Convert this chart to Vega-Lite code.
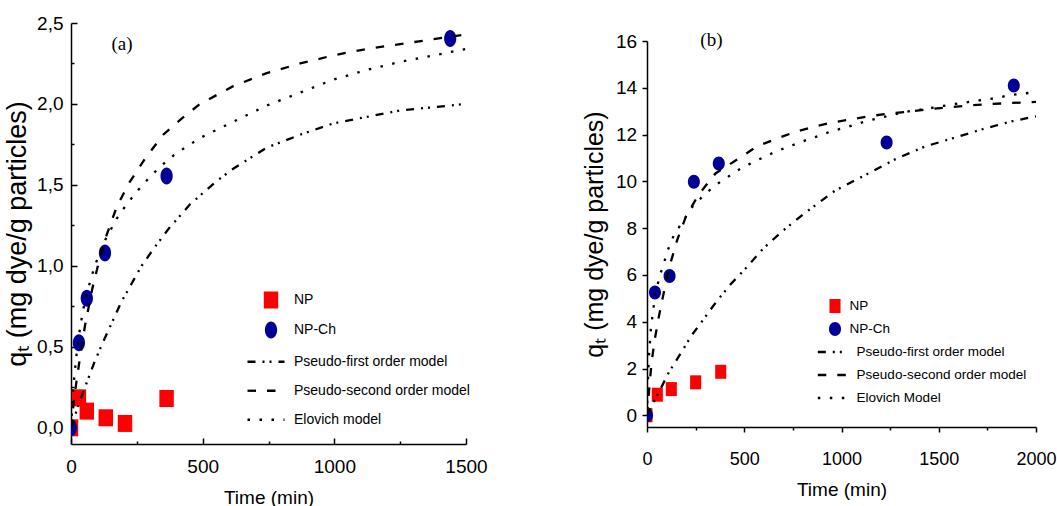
{
"$schema": "https://vega.github.io/schema/vega-lite/v6.json",
"padding": {"left": 3, "top": 14, "right": 0, "bottom": 0},
"spacing": 94,
"background": "white",
"config": {
  "view": {"stroke": null},
  "axis": {"grid": false, "domainColor": "#000", "domainWidth": 1.5, "tickColor": "#000", "tickWidth": 1.5, "labelColor": "#000", "titleColor": "#000", "labelFont": "Liberation Sans", "labelFontSize": 19, "titleFont": "Liberation Sans", "titleFontSize": 19, "titleFontWeight": "normal", "labelFlush": false, "labelOverlap": false},
  "legend": {"labelFont": "Liberation Sans", "labelColor": "#000", "padding": 0, "labelLimit": 0}
},
"datasets": {
  "pts": [
    {"p":"a","s":"NP","t":0,"q":0},{"p":"a","s":"NP","t":30,"q":0.185},{"p":"a","s":"NP","t":60,"q":0.103},{"p":"a","s":"NP","t":132,"q":0.062},{"p":"a","s":"NP","t":205,"q":0.027},{"p":"a","s":"NP","t":363,"q":0.181},
    {"p":"a","s":"NP-Ch","t":0,"q":0},{"p":"a","s":"NP-Ch","t":30,"q":0.525},{"p":"a","s":"NP-Ch","t":60,"q":0.8},{"p":"a","s":"NP-Ch","t":129,"q":1.08},{"p":"a","s":"NP-Ch","t":363,"q":1.555},{"p":"a","s":"NP-Ch","t":1440,"q":2.405},
    {"p":"b","s":"NP","t":0,"q":0},{"p":"b","s":"NP","t":53,"q":0.88},{"p":"b","s":"NP","t":125,"q":1.12},{"p":"b","s":"NP","t":250,"q":1.41},{"p":"b","s":"NP","t":379,"q":1.86},
    {"p":"b","s":"NP-Ch","t":0,"q":0},{"p":"b","s":"NP-Ch","t":41,"q":5.25},{"p":"b","s":"NP-Ch","t":116,"q":5.96},{"p":"b","s":"NP-Ch","t":241,"q":9.98},{"p":"b","s":"NP-Ch","t":369,"q":10.76},{"p":"b","s":"NP-Ch","t":1232,"q":11.66},{"p":"b","s":"NP-Ch","t":1886,"q":14.1}
  ],
  "fits": [
    {"p":"a","m":"Pseudo-first order model","t":0,"q":0},{"p":"a","m":"Pseudo-first order model","t":30,"q":0.15},{"p":"a","m":"Pseudo-first order model","t":60,"q":0.28},{"p":"a","m":"Pseudo-first order model","t":90,"q":0.41},{"p":"a","m":"Pseudo-first order model","t":119,"q":0.52},{"p":"a","m":"Pseudo-first order model","t":150,"q":0.63},{"p":"a","m":"Pseudo-first order model","t":192,"q":0.78},{"p":"a","m":"Pseudo-first order model","t":230,"q":0.89},{"p":"a","m":"Pseudo-first order model","t":268,"q":1.0},{"p":"a","m":"Pseudo-first order model","t":320,"q":1.12},{"p":"a","m":"Pseudo-first order model","t":376,"q":1.24},{"p":"a","m":"Pseudo-first order model","t":452,"q":1.38},{"p":"a","m":"Pseudo-first order model","t":550,"q":1.52},{"p":"a","m":"Pseudo-first order model","t":616,"q":1.6},{"p":"a","m":"Pseudo-first order model","t":743,"q":1.73},{"p":"a","m":"Pseudo-first order model","t":870,"q":1.81},{"p":"a","m":"Pseudo-first order model","t":996,"q":1.88},{"p":"a","m":"Pseudo-first order model","t":1123,"q":1.92},{"p":"a","m":"Pseudo-first order model","t":1250,"q":1.96},{"p":"a","m":"Pseudo-first order model","t":1377,"q":1.98},{"p":"a","m":"Pseudo-first order model","t":1500,"q":2.0},
    {"p":"a","m":"Pseudo-second order model","t":0,"q":0},{"p":"a","m":"Pseudo-second order model","t":10,"q":0.15},{"p":"a","m":"Pseudo-second order model","t":21,"q":0.29},{"p":"a","m":"Pseudo-second order model","t":32,"q":0.41},{"p":"a","m":"Pseudo-second order model","t":53,"q":0.63},{"p":"a","m":"Pseudo-second order model","t":81,"q":0.86},{"p":"a","m":"Pseudo-second order model","t":105,"q":1.02},{"p":"a","m":"Pseudo-second order model","t":135,"q":1.19},{"p":"a","m":"Pseudo-second order model","t":175,"q":1.37},{"p":"a","m":"Pseudo-second order model","t":220,"q":1.51},{"p":"a","m":"Pseudo-second order model","t":280,"q":1.66},{"p":"a","m":"Pseudo-second order model","t":350,"q":1.81},{"p":"a","m":"Pseudo-second order model","t":420,"q":1.91},{"p":"a","m":"Pseudo-second order model","t":490,"q":2.0},{"p":"a","m":"Pseudo-second order model","t":616,"q":2.11},{"p":"a","m":"Pseudo-second order model","t":743,"q":2.19},{"p":"a","m":"Pseudo-second order model","t":870,"q":2.25},{"p":"a","m":"Pseudo-second order model","t":996,"q":2.3},{"p":"a","m":"Pseudo-second order model","t":1123,"q":2.34},{"p":"a","m":"Pseudo-second order model","t":1250,"q":2.37},{"p":"a","m":"Pseudo-second order model","t":1377,"q":2.4},{"p":"a","m":"Pseudo-second order model","t":1500,"q":2.43},
    {"p":"a","m":"Elovich model","t":0,"q":0},{"p":"a","m":"Elovich model","t":5,"q":0.15},{"p":"a","m":"Elovich model","t":10,"q":0.27},{"p":"a","m":"Elovich model","t":20,"q":0.44},{"p":"a","m":"Elovich model","t":30,"q":0.57},{"p":"a","m":"Elovich model","t":45,"q":0.72},{"p":"a","m":"Elovich model","t":60,"q":0.83},{"p":"a","m":"Elovich model","t":90,"q":1.0},{"p":"a","m":"Elovich model","t":130,"q":1.16},{"p":"a","m":"Elovich model","t":173,"q":1.29},{"p":"a","m":"Elovich model","t":211,"q":1.38},{"p":"a","m":"Elovich model","t":256,"q":1.47},{"p":"a","m":"Elovich model","t":300,"q":1.55},{"p":"a","m":"Elovich model","t":344,"q":1.62},{"p":"a","m":"Elovich model","t":395,"q":1.69},{"p":"a","m":"Elovich model","t":490,"q":1.79},{"p":"a","m":"Elovich model","t":616,"q":1.89},{"p":"a","m":"Elovich model","t":743,"q":1.99},{"p":"a","m":"Elovich model","t":870,"q":2.07},{"p":"a","m":"Elovich model","t":996,"q":2.15},{"p":"a","m":"Elovich model","t":1123,"q":2.21},{"p":"a","m":"Elovich model","t":1250,"q":2.26},{"p":"a","m":"Elovich model","t":1377,"q":2.3},{"p":"a","m":"Elovich model","t":1500,"q":2.34},
    {"p":"b","m":"Pseudo-first order model","t":0,"q":0},{"p":"b","m":"Pseudo-first order model","t":20,"q":0.33},{"p":"b","m":"Pseudo-first order model","t":50,"q":0.82},{"p":"b","m":"Pseudo-first order model","t":80,"q":1.3},{"p":"b","m":"Pseudo-first order model","t":113,"q":1.85},{"p":"b","m":"Pseudo-first order model","t":170,"q":2.6},{"p":"b","m":"Pseudo-first order model","t":228,"q":3.4},{"p":"b","m":"Pseudo-first order model","t":290,"q":4.1},{"p":"b","m":"Pseudo-first order model","t":357,"q":4.86},{"p":"b","m":"Pseudo-first order model","t":430,"q":5.6},{"p":"b","m":"Pseudo-first order model","t":503,"q":6.24},{"p":"b","m":"Pseudo-first order model","t":600,"q":7.15},{"p":"b","m":"Pseudo-first order model","t":700,"q":7.9},{"p":"b","m":"Pseudo-first order model","t":814,"q":8.66},{"p":"b","m":"Pseudo-first order model","t":968,"q":9.61},{"p":"b","m":"Pseudo-first order model","t":1122,"q":10.27},{"p":"b","m":"Pseudo-first order model","t":1275,"q":10.94},{"p":"b","m":"Pseudo-first order model","t":1429,"q":11.49},{"p":"b","m":"Pseudo-first order model","t":1583,"q":11.87},{"p":"b","m":"Pseudo-first order model","t":1737,"q":12.26},{"p":"b","m":"Pseudo-first order model","t":1882,"q":12.58},{"p":"b","m":"Pseudo-first order model","t":2000,"q":12.78},
    {"p":"b","m":"Pseudo-second order model","t":0,"q":0},{"p":"b","m":"Pseudo-second order model","t":10,"q":1.0},{"p":"b","m":"Pseudo-second order model","t":24,"q":2.3},{"p":"b","m":"Pseudo-second order model","t":40,"q":3.25},{"p":"b","m":"Pseudo-second order model","t":61,"q":4.22},{"p":"b","m":"Pseudo-second order model","t":90,"q":5.4},{"p":"b","m":"Pseudo-second order model","t":118,"q":6.43},{"p":"b","m":"Pseudo-second order model","t":155,"q":7.49},{"p":"b","m":"Pseudo-second order model","t":198,"q":8.45},{"p":"b","m":"Pseudo-second order model","t":263,"q":9.41},{"p":"b","m":"Pseudo-second order model","t":352,"q":10.34},{"p":"b","m":"Pseudo-second order model","t":472,"q":10.98},{"p":"b","m":"Pseudo-second order model","t":566,"q":11.5},{"p":"b","m":"Pseudo-second order model","t":668,"q":11.83},{"p":"b","m":"Pseudo-second order model","t":771,"q":12.14},{"p":"b","m":"Pseudo-second order model","t":873,"q":12.37},{"p":"b","m":"Pseudo-second order model","t":968,"q":12.54},{"p":"b","m":"Pseudo-second order model","t":1070,"q":12.68},{"p":"b","m":"Pseudo-second order model","t":1173,"q":12.82},{"p":"b","m":"Pseudo-second order model","t":1270,"q":12.92},{"p":"b","m":"Pseudo-second order model","t":1369,"q":13.0},{"p":"b","m":"Pseudo-second order model","t":1470,"q":13.1},{"p":"b","m":"Pseudo-second order model","t":1574,"q":13.18},{"p":"b","m":"Pseudo-second order model","t":1668,"q":13.25},{"p":"b","m":"Pseudo-second order model","t":1771,"q":13.31},{"p":"b","m":"Pseudo-second order model","t":1874,"q":13.35},{"p":"b","m":"Pseudo-second order model","t":2000,"q":13.4},
    {"p":"b","m":"Elovich Model","t":0,"q":0},{"p":"b","m":"Elovich Model","t":2,"q":0.8},{"p":"b","m":"Elovich Model","t":5,"q":1.6},{"p":"b","m":"Elovich Model","t":10,"q":2.55},{"p":"b","m":"Elovich Model","t":20,"q":3.7},{"p":"b","m":"Elovich Model","t":41,"q":5.1},{"p":"b","m":"Elovich Model","t":65,"q":5.95},{"p":"b","m":"Elovich Model","t":87,"q":6.5},{"p":"b","m":"Elovich Model","t":104,"q":7.0},{"p":"b","m":"Elovich Model","t":138,"q":7.7},{"p":"b","m":"Elovich Model","t":181,"q":8.25},{"p":"b","m":"Elovich Model","t":232,"q":8.9},{"p":"b","m":"Elovich Model","t":292,"q":9.41},{"p":"b","m":"Elovich Model","t":352,"q":9.84},{"p":"b","m":"Elovich Model","t":412,"q":10.17},{"p":"b","m":"Elovich Model","t":472,"q":10.5},{"p":"b","m":"Elovich Model","t":532,"q":10.76},{"p":"b","m":"Elovich Model","t":591,"q":11.0},{"p":"b","m":"Elovich Model","t":651,"q":11.23},{"p":"b","m":"Elovich Model","t":711,"q":11.43},{"p":"b","m":"Elovich Model","t":771,"q":11.62},{"p":"b","m":"Elovich Model","t":831,"q":11.8},{"p":"b","m":"Elovich Model","t":891,"q":11.97},{"p":"b","m":"Elovich Model","t":950,"q":12.15},{"p":"b","m":"Elovich Model","t":1019,"q":12.3},{"p":"b","m":"Elovich Model","t":1078,"q":12.45},{"p":"b","m":"Elovich Model","t":1138,"q":12.6},{"p":"b","m":"Elovich Model","t":1266,"q":12.85},{"p":"b","m":"Elovich Model","t":1326,"q":12.97},{"p":"b","m":"Elovich Model","t":1450,"q":13.12},{"p":"b","m":"Elovich Model","t":1560,"q":13.28},{"p":"b","m":"Elovich Model","t":1677,"q":13.42},{"p":"b","m":"Elovich Model","t":1737,"q":13.5},{"p":"b","m":"Elovich Model","t":1796,"q":13.56},{"p":"b","m":"Elovich Model","t":1856,"q":13.67},{"p":"b","m":"Elovich Model","t":1916,"q":13.74},{"p":"b","m":"Elovich Model","t":1976,"q":13.79},{"p":"b","m":"Elovich Model","t":2000,"q":13.82}
  ],
  "labs": [
    {"p":"a","t":194,"q":2.37,"txt":"(a)"},
    {"p":"b","t":331,"q":16.05,"txt":"(b)"}
  ]
},
"hconcat": [
  {
    "width": 395, "height": 421,
    "layer": [
      {
        "data": {"name": "pts"},
        "transform": [{"filter": "datum.p === 'a'"}],
        "mark": {"type": "point", "filled": true, "opacity": 1, "size": 289, "clip": true},
        "encoding": {
          "x": {"field": "t", "type": "quantitative", "scale": {"domain": [0, 1500], "nice": false, "zero": false},
                "axis": {"title": "Time (min)", "values": [0,250,500,750,1000,1250,1500], "format": "d", "labelExpr": "datum.value % 500 === 0 ? datum.label : ''", "tickSize": {"condition": {"test": "datum.value % 500 === 0", "value": -6}, "value": -3}, "labelPadding": 19, "titlePadding": 9}},
          "y": {"field": "q", "type": "quantitative", "scale": {"domain": [-0.1, 2.5], "nice": false, "zero": false},
                "axis": {"title": "qₜ (mg dye/g particles)", "values": [0,0.25,0.5,0.75,1,1.25,1.5,1.75,2,2.25,2.5], "labelExpr": "datum.value % 0.5 === 0 ? replace(format(datum.value, '.1f'), '.', ',') : ''", "tickSize": {"condition": {"test": "datum.value % 0.5 === 0", "value": -6}, "value": -3}, "labelPadding": 14, "titleFontSize": 27, "titlePadding": 5}},
          "color": {"field": "s", "type": "nominal", "scale": {"domain": ["NP", "NP-Ch"], "range": ["#ff0000", "#000096"]},
                    "legend": {"orient": "none", "legendX": 191.5, "legendY": 268.5, "title": null, "labelFontSize": 14, "labelOffset": 14.5, "rowPadding": 13, "symbolSize": 289, "symbolStrokeWidth": 0}},
          "shape": {"field": "s", "type": "nominal", "scale": {"domain": ["NP", "NP-Ch"], "range": ["M-0.85,-1H0.85V1H-0.85Z", "M-0.72,0A0.72,1,0,1,1,0.72,0A0.72,1,0,1,1,-0.72,0Z"]},
                    "legend": {"orient": "none", "legendX": 191.5, "legendY": 268.5, "title": null, "labelFontSize": 14, "labelOffset": 14.5, "rowPadding": 13, "symbolSize": 289, "symbolStrokeWidth": 0}}
        }
      },
      {
        "data": {"name": "fits"},
        "transform": [{"filter": "datum.p === 'a'"}],
        "mark": {"type": "line", "color": "#000", "strokeWidth": 2.3, "clip": true},
        "encoding": {
          "x": {"field": "t", "type": "quantitative"},
          "y": {"field": "q", "type": "quantitative"},
          "strokeDash": {"field": "m", "type": "nominal", "sort": null,
                         "scale": {"domain": ["Pseudo-first order model", "Pseudo-second order model", "Elovich model"], "range": [[8,7,2,5,2,7],[8.5,11],[2.5,9.5]]},
                         "legend": {"orient": "none", "legendX": 175, "legendY": 318.75, "title": null, "labelFontSize": 14, "labelOffset": 8, "rowPadding": 2, "symbolType": "stroke", "symbolSize": 1369, "symbolStrokeColor": "#000", "symbolStrokeWidth": 2.3}}
        }
      },
      {
        "data": {"name": "labs"},
        "transform": [{"filter": "datum.p === 'a'"}],
        "mark": {"type": "text", "font": "Liberation Serif", "fontSize": 19, "color": "#000"},
        "encoding": {
          "x": {"field": "t", "type": "quantitative"},
          "y": {"field": "q", "type": "quantitative"},
          "text": {"field": "txt"}
        }
      }
    ]
  },
  {
    "width": 389, "height": 404,
    "layer": [
      {
        "data": {"name": "pts"},
        "transform": [{"filter": "datum.p === 'b'"}],
        "mark": {"type": "point", "filled": true, "opacity": 1, "size": 196, "clip": true},
        "encoding": {
          "x": {"field": "t", "type": "quantitative", "scale": {"domain": [0, 2000], "nice": false, "zero": false},
                "axis": {"title": "Time (min)", "values": [0,250,500,750,1000,1250,1500,1750,2000], "format": "d", "labelExpr": "datum.value % 500 === 0 ? datum.label : ''", "tickSize": {"condition": {"test": "datum.value % 500 === 0", "value": 5}, "value": 3}, "labelFontSize": 18, "labelPadding": 18.6, "titlePadding": 12}},
          "y": {"field": "q", "type": "quantitative", "scale": {"domain": [-0.5, 16], "range": [404, 18], "nice": false, "zero": false},
                "axis": {"title": "qₜ (mg dye/g particles)", "values": [0,1,2,3,4,5,6,7,8,9,10,11,12,13,14,15,16], "format": "d", "labelExpr": "datum.value % 2 === 0 ? datum.label : ''", "tickSize": {"condition": {"test": "datum.value % 2 === 0", "value": 5}, "value": 3}, "labelPadding": 5.4, "titleFontSize": 25, "titlePadding": 8}},
          "color": {"field": "s", "type": "nominal", "scale": {"domain": ["NP", "NP-Ch"], "range": ["#ff0000", "#000096"]},
                    "legend": {"orient": "none", "legendX": 181, "legendY": 276, "title": null, "labelFontSize": 13.5, "labelOffset": 7.6, "rowPadding": 9, "symbolSize": 196, "symbolStrokeWidth": 0}},
          "shape": {"field": "s", "type": "nominal", "scale": {"domain": ["NP", "NP-Ch"], "range": ["M-0.79,-1H0.79V1H-0.79Z", "M-0.86,0A0.86,1,0,1,1,0.86,0A0.86,1,0,1,1,-0.86,0Z"]},
                    "legend": {"orient": "none", "legendX": 181, "legendY": 276, "title": null, "labelFontSize": 13.5, "labelOffset": 7.6, "rowPadding": 9, "symbolSize": 196, "symbolStrokeWidth": 0}}
        }
      },
      {
        "data": {"name": "fits"},
        "transform": [{"filter": "datum.p === 'b'"}],
        "mark": {"type": "line", "color": "#000", "strokeWidth": 2.3, "clip": true},
        "encoding": {
          "x": {"field": "t", "type": "quantitative"},
          "y": {"field": "q", "type": "quantitative"},
          "strokeDash": {"field": "m", "type": "nominal", "sort": null,
                         "scale": {"domain": ["Pseudo-first order model", "Pseudo-second order model", "Elovich Model"], "range": [[8,7,2,5,2,7],[8.5,11],[2.5,9.5]]},
                         "legend": {"orient": "none", "legendX": 169.3, "legendY": 313, "title": null, "labelFontSize": 13.5, "labelOffset": 8.3, "rowPadding": -2.2, "symbolType": "stroke", "symbolSize": 841, "symbolStrokeColor": "#000", "symbolStrokeWidth": 2.3}}
        }
      },
      {
        "data": {"name": "labs"},
        "transform": [{"filter": "datum.p === 'b'"}],
        "mark": {"type": "text", "font": "Liberation Serif", "fontSize": 19, "color": "#000"},
        "encoding": {
          "x": {"field": "t", "type": "quantitative"},
          "y": {"field": "q", "type": "quantitative"},
          "text": {"field": "txt"}
        }
      }
    ]
  }
],
"resolve": {"scale": {"color": "independent", "shape": "independent", "strokeDash": "independent"}, "legend": {"color": "independent", "shape": "independent", "strokeDash": "independent"}}
}
